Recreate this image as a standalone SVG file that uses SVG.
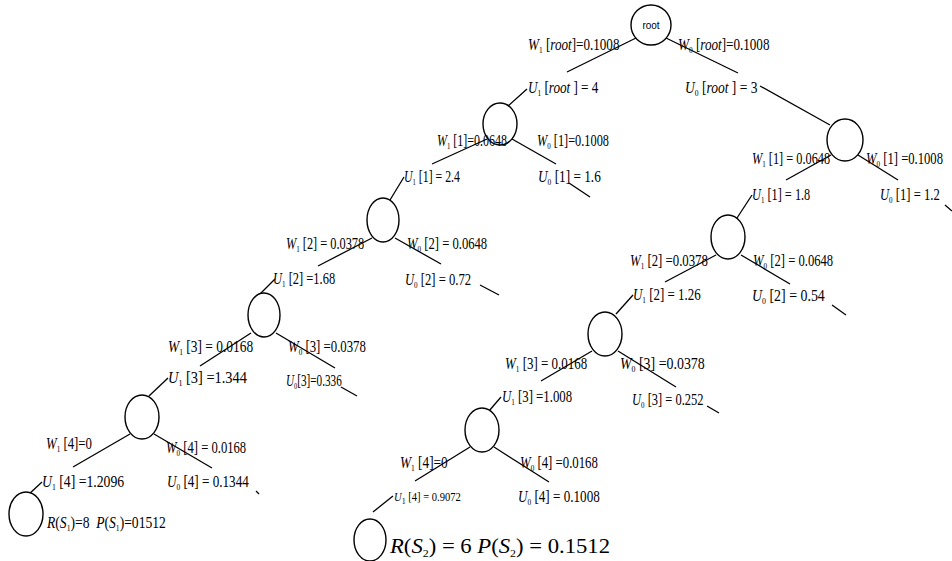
<svg xmlns="http://www.w3.org/2000/svg" width="952" height="561" viewBox="0 0 952 561">
  <style>
    .node { fill: #fff; stroke: #000; stroke-width: 1.4; }
    .edge { stroke: #000; stroke-width: 1.3; fill: none; }
    .t { font-family: "Liberation Serif", "Times New Roman", serif; font-size: 16px; fill: #000; }
    .i { font-style: italic; }
    .sub { font-size: 9px; }
    .small { font-size: 12px; }
    .big { font-size: 21px; }
    .bigsub { font-size: 11px; }
    .nm { font-family: "Liberation Sans", Arial, sans-serif; font-size: 10px; fill: #000; }
  </style>
  <rect width="952" height="561" fill="#fff"/>

  <!-- connectors -->
  <g id="connectors">
    <!-- root -->
    <line class="edge" x1="636" y1="38" x2="567" y2="72"/>
    <line class="edge" x1="666" y1="38" x2="738" y2="73"/>
    <line class="edge" x1="527" y1="89" x2="508" y2="106"/>
    <line class="edge" x1="760" y1="86" x2="830" y2="125"/>
    <!-- level 1 left -->
    <line class="edge" x1="487" y1="139" x2="432" y2="164"/>
    <line class="edge" x1="512" y1="139" x2="556" y2="164"/>
    <line class="edge" x1="404" y1="177" x2="390" y2="200"/>
    <line class="edge" x1="569" y1="183" x2="590" y2="197"/>
    <!-- level 1 right -->
    <line class="edge" x1="831" y1="155" x2="786" y2="180"/>
    <line class="edge" x1="858" y1="155" x2="898" y2="180"/>
    <line class="edge" x1="752" y1="195" x2="737" y2="218"/>
    <line class="edge" x1="945" y1="205" x2="952" y2="211"/>
    <!-- level 2 left -->
    <line class="edge" x1="372" y1="238" x2="318" y2="266"/>
    <line class="edge" x1="395" y1="238" x2="441" y2="264"/>
    <line class="edge" x1="275" y1="279" x2="259" y2="295"/>
    <line class="edge" x1="480" y1="285" x2="499" y2="295"/>
    <!-- level 2 right -->
    <line class="edge" x1="716" y1="255" x2="665" y2="282"/>
    <line class="edge" x1="741" y1="255" x2="790" y2="284"/>
    <line class="edge" x1="633" y1="295" x2="616" y2="314"/>
    <line class="edge" x1="832" y1="305" x2="846" y2="315"/>
    <!-- level 3 left -->
    <line class="edge" x1="251" y1="333" x2="200" y2="366"/>
    <line class="edge" x1="276" y1="333" x2="335" y2="368"/>
    <line class="edge" x1="168" y1="378" x2="149" y2="396"/>
    <line class="edge" x1="341" y1="387" x2="357" y2="396"/>
    <!-- level 3 right -->
    <line class="edge" x1="592" y1="351" x2="541" y2="381"/>
    <line class="edge" x1="618" y1="351" x2="676" y2="387"/>
    <line class="edge" x1="501" y1="397" x2="489" y2="411"/>
    <line class="edge" x1="707" y1="406" x2="719" y2="413"/>
    <!-- level 4 left -->
    <line class="edge" x1="130" y1="434" x2="73" y2="467"/>
    <line class="edge" x1="154" y1="434" x2="212" y2="468"/>
    <line class="edge" x1="42" y1="482" x2="28" y2="495"/>
    <line class="edge" x1="256" y1="491" x2="259" y2="494"/>
    <!-- level 4 right -->
    <line class="edge" x1="470" y1="447" x2="415" y2="481"/>
    <line class="edge" x1="494" y1="447" x2="549" y2="482"/>
    <line class="edge" x1="393" y1="496" x2="373" y2="512"/>
  </g>

  <!-- nodes -->
  <g id="node-root">
    <ellipse class="node" cx="651" cy="25" rx="20" ry="20"/>
    <text class="nm" x="651" y="29" text-anchor="middle">root</text>
  </g>
  <g id="node-1L"><ellipse class="node" cx="500" cy="124" rx="17" ry="21"/></g>
  <g id="node-1R"><ellipse class="node" cx="845" cy="140" rx="18" ry="21"/></g>
  <g id="node-2L"><ellipse class="node" cx="383" cy="220" rx="16" ry="22"/></g>
  <g id="node-2R"><ellipse class="node" cx="728" cy="237" rx="17" ry="22"/></g>
  <g id="node-3L"><ellipse class="node" cx="264" cy="315" rx="16" ry="22"/></g>
  <g id="node-3R"><ellipse class="node" cx="605" cy="334" rx="17" ry="22"/></g>
  <g id="node-4L"><ellipse class="node" cx="142" cy="417" rx="17" ry="22"/></g>
  <g id="node-4R"><ellipse class="node" cx="482" cy="430" rx="17" ry="22"/></g>
  <g id="node-leafL"><ellipse class="node" cx="26" cy="514" rx="17" ry="22"/></g>
  <g id="node-leafR"><ellipse class="node" cx="370" cy="540" rx="16" ry="21"/></g>

  <!-- edge labels (narrowed Times face via horizontal scale) -->
  <g id="labels">
    <!-- root -->
    <text class="t" transform="translate(528,50) scale(0.82,1)"><tspan class="i">W</tspan><tspan class="sub" dy="3">1</tspan><tspan dy="-3"> [</tspan><tspan class="i">root</tspan>]=0.1008</text>
    <text class="t" transform="translate(678,50) scale(0.82,1)"><tspan class="i">W</tspan><tspan class="sub" dy="3">0</tspan><tspan dy="-3"> [</tspan><tspan class="i">root</tspan>]=0.1008</text>
    <text class="t" transform="translate(528,93) scale(0.82,1)"><tspan class="i">U</tspan><tspan class="sub" dy="3">1</tspan><tspan dy="-3"> [</tspan><tspan class="i">root</tspan> ] = 4</text>
    <text class="t" transform="translate(685,93) scale(0.845,1)"><tspan class="i">U</tspan><tspan class="sub" dy="3">0</tspan><tspan dy="-3"> [</tspan><tspan class="i">root</tspan> ] = 3</text>

    <!-- level 1 left -->
    <text class="t" transform="translate(437,146) scale(0.75,1)"><tspan class="i">W</tspan><tspan class="sub" dy="3">1</tspan><tspan dy="-3"> [1]=0.0648</tspan></text>
    <text class="t" transform="translate(537,146) scale(0.77,1)"><tspan class="i">W</tspan><tspan class="sub" dy="3">0</tspan><tspan dy="-3"> [1]=0.1008</tspan></text>
    <text class="t" transform="translate(404,182) scale(0.74,1)"><tspan class="i">U</tspan><tspan class="sub" dy="3">1</tspan><tspan dy="-3"> [1] = 2.4</tspan></text>
    <text class="t" transform="translate(538,182) scale(0.83,1)"><tspan class="i">U</tspan><tspan class="sub" dy="3">0</tspan><tspan dy="-3"> [1] = 1.6</tspan></text>

    <!-- level 1 right -->
    <text class="t" transform="translate(752,164) scale(0.77,1)"><tspan class="i">W</tspan><tspan class="sub" dy="3">1</tspan><tspan dy="-3"> [1] = 0.0648</tspan></text>
    <text class="t" transform="translate(866,164) scale(0.79,1)"><tspan class="i">W</tspan><tspan class="sub" dy="3">0</tspan><tspan dy="-3"> [1] =0.1008</tspan></text>
    <text class="t" transform="translate(752,200) scale(0.77,1)"><tspan class="i">U</tspan><tspan class="sub" dy="3">1</tspan><tspan dy="-3"> [1] = 1.8</tspan></text>
    <text class="t" transform="translate(880,200) scale(0.79,1)"><tspan class="i">U</tspan><tspan class="sub" dy="3">0</tspan><tspan dy="-3"> [1] = 1.2</tspan></text>

    <!-- level 2 left -->
    <text class="t" transform="translate(286,249) scale(0.77,1)"><tspan class="i">W</tspan><tspan class="sub" dy="3">1</tspan><tspan dy="-3"> [2] = 0.0378</tspan></text>
    <text class="t" transform="translate(407,249) scale(0.79,1)"><tspan class="i">W</tspan><tspan class="sub" dy="3">0</tspan><tspan dy="-3"> [2] = 0.0648</tspan></text>
    <text class="t" transform="translate(273,284) scale(0.78,1)"><tspan class="i">U</tspan><tspan class="sub" dy="3">1</tspan><tspan dy="-3"> [2] =1.68</tspan></text>
    <text class="t" transform="translate(405,285) scale(0.79,1)"><tspan class="i">U</tspan><tspan class="sub" dy="3">0</tspan><tspan dy="-3"> [2] = 0.72</tspan></text>

    <!-- level 2 right -->
    <text class="t" transform="translate(630,266) scale(0.8,1)"><tspan class="i">W</tspan><tspan class="sub" dy="3">1</tspan><tspan dy="-3"> [2] =0.0378</tspan></text>
    <text class="t" transform="translate(753,266) scale(0.79,1)"><tspan class="i">W</tspan><tspan class="sub" dy="3">0</tspan><tspan dy="-3"> [2] = 0.0648</tspan></text>
    <text class="t" transform="translate(633,300) scale(0.81,1)"><tspan class="i">U</tspan><tspan class="sub" dy="3">1</tspan><tspan dy="-3"> [2] = 1.26</tspan></text>
    <text class="t" transform="translate(752,301) scale(0.87,1)"><tspan class="i">U</tspan><tspan class="sub" dy="3">0</tspan><tspan dy="-3"> [2] = 0.54</tspan></text>

    <!-- level 3 left -->
    <text class="t" transform="translate(168,352) scale(0.84,1)"><tspan class="i">W</tspan><tspan class="sub" dy="3">1</tspan><tspan dy="-3"> [3] = 0.0168</tspan></text>
    <text class="t" transform="translate(288,352) scale(0.8,1)"><tspan class="i">W</tspan><tspan class="sub" dy="3">0</tspan><tspan dy="-3"> [3] =0.0378</tspan></text>
    <text class="t" transform="translate(168,383) scale(0.9,1)"><tspan class="i">U</tspan><tspan class="sub" dy="3">1</tspan><tspan dy="-3"> [3] =1.344</tspan></text>
    <text class="t" transform="translate(286,386) scale(0.7,1)"><tspan class="i">U</tspan><tspan class="sub" dy="3">0</tspan><tspan dy="-3">[3]=0.336</tspan></text>

    <!-- level 3 right -->
    <text class="t" transform="translate(505,369) scale(0.81,1)"><tspan class="i">W</tspan><tspan class="sub" dy="3">1</tspan><tspan dy="-3"> [3] = 0.0168</tspan></text>
    <text class="t" transform="translate(620,369) scale(0.87,1)"><tspan class="i">W</tspan><tspan class="sub" dy="3">0</tspan><tspan dy="-3"> [3] =0.0378</tspan></text>
    <text class="t" transform="translate(502,402) scale(0.8,1)"><tspan class="i">U</tspan><tspan class="sub" dy="3">1</tspan><tspan dy="-3"> [3] =1.008</tspan></text>
    <text class="t" transform="translate(632,405) scale(0.78,1)"><tspan class="i">U</tspan><tspan class="sub" dy="3">0</tspan><tspan dy="-3"> [3] = 0.252</tspan></text>

    <!-- level 4 left -->
    <text class="t" transform="translate(46,449) scale(0.8,1)"><tspan class="i">W</tspan><tspan class="sub" dy="3">1</tspan><tspan dy="-3"> [4]=0</tspan></text>
    <text class="t" transform="translate(166,453) scale(0.79,1)"><tspan class="i">W</tspan><tspan class="sub" dy="3">0</tspan><tspan dy="-3"> [4] = 0.0168</tspan></text>
    <text class="t" transform="translate(42,487) scale(0.86,1)"><tspan class="i">U</tspan><tspan class="sub" dy="3">1</tspan><tspan dy="-3"> [4] =1.2096</tspan></text>
    <text class="t" transform="translate(167,487) scale(0.82,1)"><tspan class="i">U</tspan><tspan class="sub" dy="3">0</tspan><tspan dy="-3"> [4] = 0.1344</tspan></text>

    <!-- level 4 right -->
    <text class="t" transform="translate(400,468) scale(0.83,1)"><tspan class="i">W</tspan><tspan class="sub" dy="3">1</tspan><tspan dy="-3"> [4]=0</tspan></text>
    <text class="t" transform="translate(520,468) scale(0.8,1)"><tspan class="i">W</tspan><tspan class="sub" dy="3">0</tspan><tspan dy="-3"> [4] =0.0168</tspan></text>
    <text class="t small" transform="translate(394,501) scale(0.88,1)"><tspan class="i">U</tspan><tspan class="sub" dy="3">1</tspan><tspan dy="-3"> [4] = 0.9072</tspan></text>
    <text class="t" transform="translate(518,502) scale(0.82,1)"><tspan class="i">U</tspan><tspan class="sub" dy="3">0</tspan><tspan dy="-3"> [4] = 0.1008</tspan></text>

    <!-- leaf results -->
    <text class="t" transform="translate(47,528) scale(0.85,1)"><tspan class="i">R</tspan>(<tspan class="i">S</tspan><tspan class="sub" dy="3">1</tspan><tspan dy="-3">)=8&#160;&#160;</tspan><tspan class="i">P</tspan>(<tspan class="i">S</tspan><tspan class="sub" dy="3">1</tspan><tspan dy="-3">)=01512</tspan></text>
    <text class="t big" transform="translate(390,553) scale(1.08,1)"><tspan class="i">R</tspan>(<tspan class="i">S</tspan><tspan class="bigsub" dy="4">2</tspan><tspan dy="-4">) = 6 </tspan><tspan class="i">P</tspan>(<tspan class="i">S</tspan><tspan class="bigsub" dy="4">2</tspan><tspan dy="-4">) = 0.1512</tspan></text>
  </g>
</svg>
